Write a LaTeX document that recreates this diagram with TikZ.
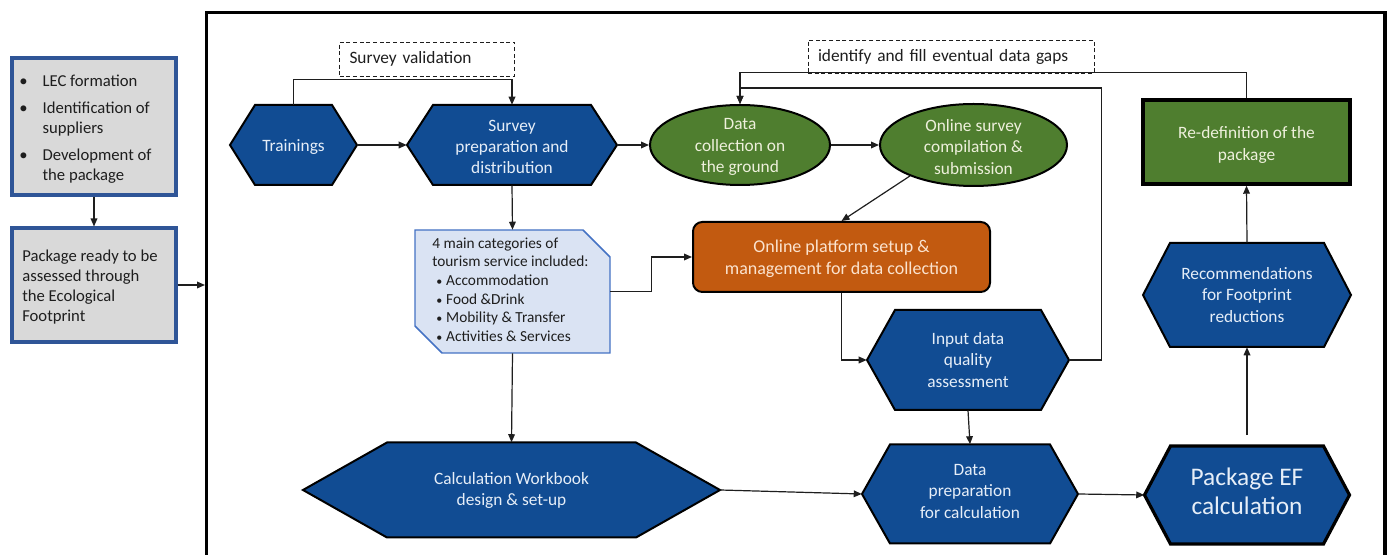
\documentclass[tikz,border=0pt]{standalone}
\usepackage{fontspec}
\setmainfont{Carlito}
\usetikzlibrary{shapes.geometric,arrows.meta,calc}

\definecolor{hexblue}{HTML}{114C93}
\definecolor{hextxt}{HTML}{E6EEF8}
\definecolor{grn}{HTML}{4F7E2F}
\definecolor{grntxt}{HTML}{EEF0DC}
\definecolor{orng}{HTML}{C25A10}
\definecolor{orngtxt}{HTML}{FBE3CF}
\definecolor{catfill}{HTML}{DAE3F3}
\definecolor{catline}{HTML}{4472C4}
\definecolor{lgray}{HTML}{D9D9D9}
\definecolor{lblue}{HTML}{2F5597}
\definecolor{ink}{HTML}{1E1E1E}

\def\px{0.75pt}

\tikzset{
  arr/.style={-{Triangle[length=6pt,width=5pt]}, line width=0.9pt, draw=ink},
  hexs/.style={fill=hexblue, draw=black, line width=1.5pt, line join=miter},
  hextext/.style={inner sep=0pt, align=center, text=hextxt, font=\fontsize{13}{16}\selectfont, yshift=-1.5pt},
  lbox/.style={rectangle, fill=lgray, draw=lblue, line width=2.3pt, inner sep=0pt},
  dbox/.style={rectangle, draw=ink, dashed, dash pattern=on 3pt off 2pt, line width=0.7pt, inner xsep=7.5pt, inner ysep=0pt, align=left, text=ink, font=\fontsize{13}{16}\selectfont},
  ell/.style={ellipse, fill=grn, draw=black, line width=1.5pt, inner sep=0pt},
  elltext/.style={inner sep=0pt, align=center, text=grntxt, font=\fontsize{13}{16}\selectfont, yshift=-1.5pt},
  rdbox/.style={rectangle, fill=grn, draw=black, line width=2.6pt, inner sep=0pt},
  rdtext/.style={inner sep=0pt, align=center, text=grntxt, font=\fontsize{13}{16.5}\selectfont, yshift=-2pt},
  opbox/.style={rectangle, rounded corners=7pt, fill=orng, draw=black, line width=1.5pt, inner sep=0pt},
  optext/.style={inner sep=0pt, align=center, text=orngtxt, font=\fontsize{13.5}{16.5}\selectfont, yshift=-1.5pt},
  catshape/.style={fill=catfill, draw=catline, line width=1.1pt, line join=miter},
}

% name, cx, cy, w, h, indent, path style, text-node style, text
\newcommand{\myhex}[9]{%
  \path[#7] ({#2-#4/2},{#3}) -- ({#2-#4/2+#6},{#3-#5/2}) -- ({#2+#4/2-#6},{#3-#5/2}) -- ({#2+#4/2},{#3}) -- ({#2+#4/2-#6},{#3+#5/2}) -- ({#2-#4/2+#6},{#3+#5/2}) -- cycle;
  \node[inner sep=0pt, minimum width={#4*\px}, minimum height={#5*\px}] (#1) at (#2,#3) {};%
  \node[hextext, #8] (#1t) at (#2,#3) {#9};%
}

\begin{document}
\begin{tikzpicture}[x=0.75pt,y=-0.75pt]
\useasboundingbox[fill=white] (0,0) rectangle (1390,555);

% main frame
\draw[line width=2.3pt] (206.5,12.5) rectangle (1385,600);

% left boxes
\node[lbox, minimum width={164*\px}, minimum height={137*\px}] (b1) at (94,126.5) {};
\node[anchor=north west, inner sep=0pt, font=\fontsize{12.5}{15}\selectfont, text=ink] (b1t) at (19,72)
  {\begin{tabular}{@{}p{17.5pt}@{}l@{}}
   \textbullet & LEC formation\\[5.5pt]
   \textbullet & Identification of\\
               & suppliers\\[5.5pt]
   \textbullet & Development of\\
               & the package
   \end{tabular}};
\node[lbox, minimum width={164*\px}, minimum height={114*\px}] (b2) at (94,285) {};
\node[anchor=north west, inner sep=0pt, align=left, font=\fontsize{12.5}{15}\selectfont, text=ink] (b2t) at (22,250)
  {Package ready to be\\assessed through\\the Ecological\\Footprint};
\coordinate (fin) at (205,285);
\draw[arr] (b1.south) -- (b2.north);
\draw[arr] (b2.east) -- (fin);

% dashed label boxes
\node[dbox, text width={155*\px}, minimum height={34*\px}] (sv) at (427,59) {Survey validation};
\node[dbox, text width={266*\px}, minimum height={33*\px}] (gap) at (951,56.5) {identify and fill eventual data gaps};

% hexagons
\myhex{tr}{293.5}{145}{127}{80}{25}{hexs}{}{Trainings}
\myhex{sp}{512}{145}{210}{80}{26}{hexs}{}{Survey\\preparation and\\distribution}
\myhex{iq}{968}{360}{202}{100}{28}{hexs}{yshift=1.5pt}{Input data\\quality\\assessment}
\myhex{dp}{970}{494}{216}{99}{28}{hexs}{yshift=3.5pt}{Data\\preparation\\for calculation}
\myhex{ef}{1247}{495}{205}{98}{26}{hexs,line width=2.4pt}{yshift=4.5pt, font=\fontsize{19}{21.5}\selectfont}{Package EF\\calculation}
\myhex{rec}{1247}{295}{208}{104}{27}{hexs}{yshift=1.5pt}{Recommendations\\for Footprint\\reductions}
\myhex{wb}{511.5}{490}{417}{95}{84}{hexs}{yshift=1pt}{Calculation Workbook\\design \& set-up}

% ellipses
\node[ell, minimum width={180*\px}, minimum height={80*\px}] (dc) at (740,145) {};
\node[elltext] (dct) at (dc) {Data\\collection on\\the ground};
\node[ell, minimum width={187*\px}, minimum height={82*\px}] (os) at (973.5,145) {};
\node[elltext] (ost) at (os) {Online survey\\compilation \&\\submission};

% re-definition box
\node[rdbox, minimum width={207*\px}, minimum height={84*\px}] (rd) at (1246.5,142) {};
\node[rdtext] (rdt) at (rd) {Re-definition of the\\package};

% online platform
\node[opbox, minimum width={297*\px}, minimum height={70*\px}] (op) at (841.5,257) {};
\node[optext] (opt) at (op) {Online platform setup \&\\management for data collection};

% categories box
\path[catshape] (415,230) -- (583,230) -- (610,257) -- (610,353) -- (442,353) -- (415,326) -- cycle;
\node[minimum width={195*\px}, minimum height={123*\px}, inner sep=0pt] (cat) at (512.5,291.5) {};
\node[anchor=north west, inner sep=0pt, align=left, text=ink, font=\fontsize{11.5}{14}\selectfont] (catt) at (432,237.5)
  {4 main categories of\\tourism service included:\\
   \hspace*{3pt}{\small\textbullet}\hspace{3pt}Accommodation\\
   \hspace*{3pt}{\small\textbullet}\hspace{3pt}Food \&Drink\\
   \hspace*{3pt}{\small\textbullet}\hspace{3pt}Mobility \& Transfer\\
   \hspace*{3pt}{\small\textbullet}\hspace{3pt}Activities \& Services};

% connectors
\draw[arr] (tr.east) -- (sp.west);
\draw[arr] (tr.north) -- ++(0,-25) -| (sp.north);
\draw[arr] (sp.east) -- (dc.west);
\draw[arr] (dc.east) -- (os.west);
\draw[arr] (sp.south) -- (cat.north);
\draw[arr] (cat.east) -- ++(41,0) |- (op.west);
\draw[arr] (os.206) -- (op.north);
\draw[arr] (op.south) |- (iq.west);
\draw[arr] (iq.east) -- ++(32,0) -- ++(0,-272) -| (dc.north);
\draw[arr] (rd.north) -- ++(0,-26) -| (dc.north);
\draw[arr] (iq.south) -- (dp.north);
\draw[arr] (cat.south) -- (wb.north);
\draw[arr] (wb.east) -- (dp.west);
\draw[arr] (dp.east) -- (ef.west);
\draw[arr, shorten <=8pt] (ef.north) -- (rec.south);
\draw[arr] (rec.north) -- (rd.south);
\end{tikzpicture}
\end{document}
